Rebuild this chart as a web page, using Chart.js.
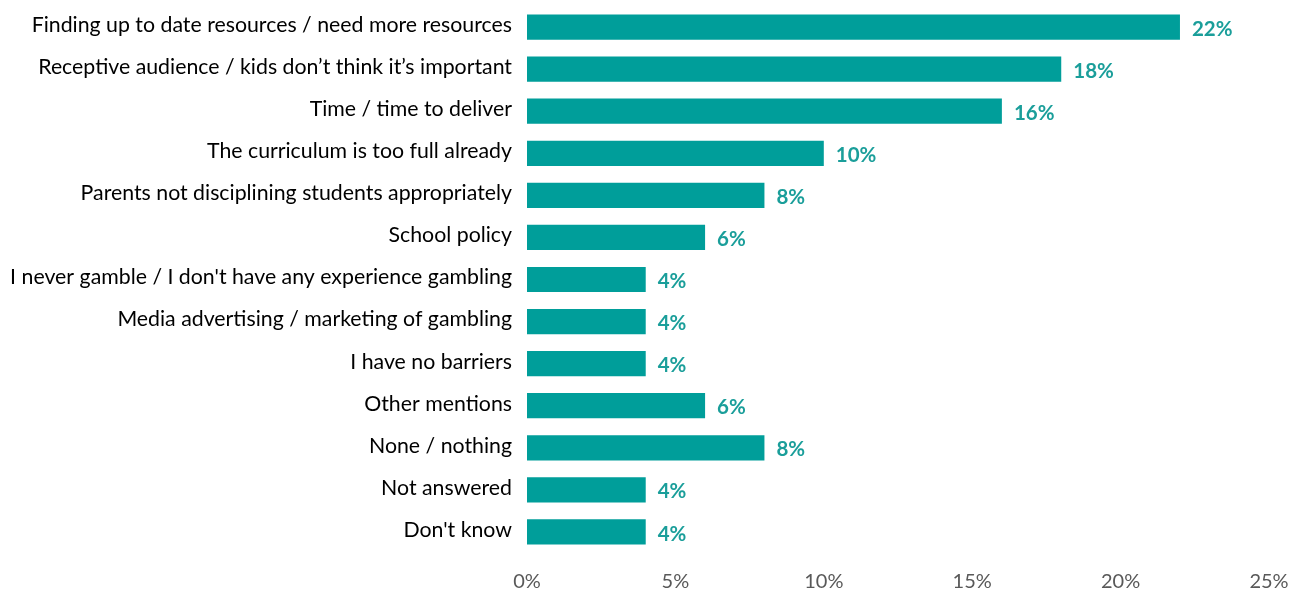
<!DOCTYPE html>
<html>
<head>
<meta charset="utf-8">
<script src="https://cdn.jsdelivr.net/npm/chart.js@4/dist/chart.umd.min.js"></script>
<style>
  html, body { margin: 0; padding: 0; background: #ffffff; }
  #wrap { width: 1306px; height: 589px; position: relative; }
</style>
</head>
<body>
<div id="wrap"><canvas id="c" width="1306" height="589"></canvas></div>
<script>
const categories = [
  "Finding up to date resources / need more resources",
  "Receptive audience / kids don\u2019t think it\u2019s important",
  "Time / time to deliver",
  "The curriculum is too full already",
  "Parents not disciplining students appropriately",
  "School policy",
  "I never gamble / I don't have any experience gambling",
  "Media advertising / marketing of gambling",
  "I have no barriers",
  "Other mentions",
  "None / nothing",
  "Not answered",
  "Don't know"
];
const percentages = [22, 18, 16, 10, 8, 6, 4, 4, 4, 6, 8, 4, 4];
const xTicks = [0, 5, 10, 15, 20, 25];

const TEAL = "#009E9A";
const FONT = "Lato, 'Open Sans', sans-serif";

// Percentage labels drawn just past the end of each bar
const valueLabels = {
  id: "valueLabels",
  afterDatasetsDraw(chart) {
    const ctx = chart.ctx;
    const meta = chart.getDatasetMeta(0);
    ctx.save();
    ctx.font = "bold 20.5px " + FONT;
    ctx.fillStyle = "#1A9E9A";
    ctx.textAlign = "left";
    ctx.textBaseline = "middle";
    meta.data.forEach((bar, i) => {
      ctx.fillText(percentages[i] + "%", bar.x + 12, bar.y + 2);
    });
    ctx.restore();
  }
};

new Chart(document.getElementById("c"), {
  type: "bar",
  data: {
    labels: categories,
    datasets: [{
      data: percentages,
      backgroundColor: TEAL,
      borderWidth: 0,
      barPercentage: 0.6,
      categoryPercentage: 1.0
    }]
  },
  options: {
    indexAxis: "y",
    responsive: false,
    animation: false,
    layout: { padding: { top: 6, right: 37, bottom: 0, left: 0 } },
    plugins: { legend: { display: false }, tooltip: { enabled: false } },
    scales: {
      x: {
        min: 0,
        max: 25,
        afterBuildTicks(scale) { scale.ticks = xTicks.map(v => ({ value: v })); },
        afterFit(scale) { scale.height = 36; scale.paddingLeft = 0; scale.paddingRight = 0; },
        grid: { display: false, drawTicks: false },
        border: { display: false },
        ticks: {
          color: "#595959",
          font: { family: FONT, size: 20 },
          padding: 17,
          maxRotation: 0,
          callback: v => v + "%"
        }
      },
      y: {
        afterFit(scale) { scale.width = 527; scale.paddingTop = 0; scale.paddingBottom = 0; },
        grid: { display: false, drawTicks: false },
        border: { display: false },
        ticks: {
          color: "#000000",
          font: { family: FONT, size: 21.3 },
          padding: 15,
          labelOffset: -2,
          autoSkip: false
        }
      }
    }
  },
  plugins: [valueLabels]
});
</script>
</body>
</html>
